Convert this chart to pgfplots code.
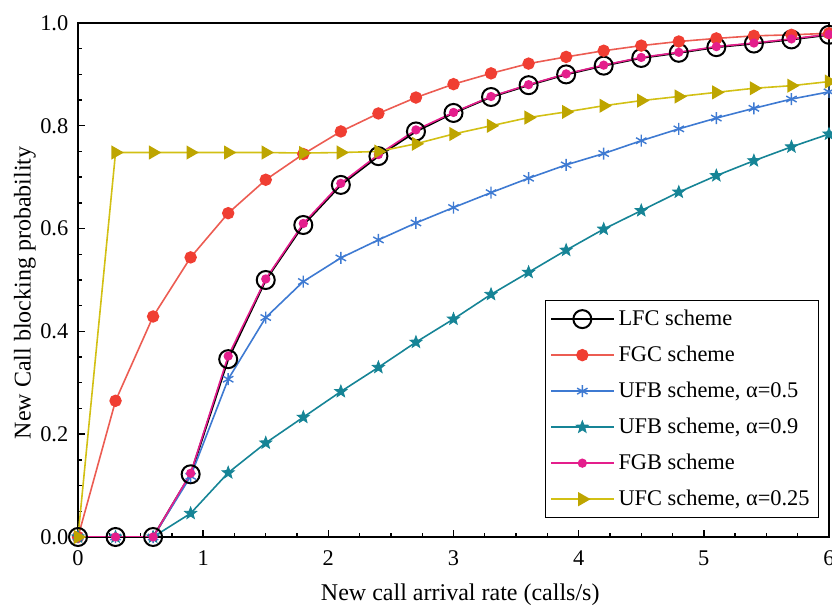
\documentclass[border=0pt]{standalone}
\usepackage{pgfplots}
\pgfplotsset{compat=1.18}
\usepackage{fontspec}
\setmainfont{Liberation Serif}
\definecolor{cred}{RGB}{240,62,50}
\definecolor{credl}{RGB}{236,92,82}
\definecolor{cblue}{RGB}{62,122,210}
\definecolor{cteal}{RGB}{22,132,150}
\definecolor{cmag}{RGB}{228,30,140}
\definecolor{cyel}{RGB}{210,192,20}
\definecolor{cyelm}{RGB}{190,165,0}
\pgfdeclareplotmark{fstar}{%
  \pgfpathmoveto{\pgfpointpolar{90}{\pgfplotmarksize}}%
  \pgfpathlineto{\pgfpointpolar{126}{0.42\pgfplotmarksize}}%
  \pgfpathlineto{\pgfpointpolar{162}{\pgfplotmarksize}}%
  \pgfpathlineto{\pgfpointpolar{198}{0.42\pgfplotmarksize}}%
  \pgfpathlineto{\pgfpointpolar{234}{\pgfplotmarksize}}%
  \pgfpathlineto{\pgfpointpolar{270}{0.42\pgfplotmarksize}}%
  \pgfpathlineto{\pgfpointpolar{306}{\pgfplotmarksize}}%
  \pgfpathlineto{\pgfpointpolar{342}{0.42\pgfplotmarksize}}%
  \pgfpathlineto{\pgfpointpolar{18}{\pgfplotmarksize}}%
  \pgfpathlineto{\pgfpointpolar{54}{0.42\pgfplotmarksize}}%
  \pgfpathclose\pgfusepathqfillstroke}
\pgfplotsset{every axis plot post/.append style={legend image code/.code={\draw[mark repeat=2,mark phase=2,##1] plot coordinates {(0cm,0cm) (0.55cm,0cm) (1.1cm,0cm)};}}}
\begin{document}
\begin{tikzpicture}
\fontsize{11bp}{13bp}\selectfont
\begin{axis}[
  scale only axis, width=375.5bp, height=257bp,
  xmin=0, xmax=6, ymin=0, ymax=1.0,
  xtick={0,1,2,3,4,5,6}, ytick={0,0.2,0.4,0.6,0.8,1.0},
  minor x tick num=3, minor y tick num=3,
  tick pos=left, tick align=inside,
  major tick length=3.5bp, minor tick length=2bp,
  axis line style={line width=0.9bp},
  every tick/.style={black, line width=0.7bp},
  /pgf/number format/assume math mode=true,
  yticklabel style={/pgf/number format/fixed, /pgf/number format/fixed zerofill, /pgf/number format/precision=1, xshift=-1bp},
  ticklabel style={font=\fontsize{11.2bp}{13bp}\selectfont},
  xticklabel style={yshift=-3bp},
  xlabel={New call arrival rate (calls/s)},
  ylabel={New Call blocking probability},
  label style={font=\fontsize{12bp}{14bp}\selectfont},
  xlabel style={at={(axis description cs:0.509,-0.113)}, anchor=center},
  ylabel style={at={(axis description cs:-0.0706,0.475)}, anchor=center},
  legend style={at={(axis description cs:0.9867,0.037)}, anchor=south east,
    draw=black, font=\fontsize{11.2bp}{13bp}\selectfont,
    row sep=4.6bp, inner sep=2.5bp, cells={anchor=west}},
  legend cell align=left,
]
\addplot[black, line width=1bp, mark=o, mark size=4.5bp, mark options={line width=1bp}] coordinates {
(0,0) (0.3,0) (0.6,0) (0.9,0.122) (1.2,0.346) (1.5,0.500) (1.8,0.607) (2.1,0.685) (2.4,0.741) (2.7,0.789) (3.0,0.825) (3.3,0.856) (3.6,0.879) (3.9,0.900) (4.2,0.917) (4.5,0.932) (4.8,0.942) (5.1,0.953) (5.4,0.960) (5.7,0.968) (6.0,0.977)};
\addlegendentry{LFC scheme}
\addplot[credl, line width=0.8bp, mark=*, mark size=2.7bp, mark options={cred, fill=cred}] coordinates {
(0,0) (0.3,0.265) (0.6,0.429) (0.9,0.544) (1.2,0.630) (1.5,0.695) (1.8,0.745) (2.1,0.789) (2.4,0.824) (2.7,0.855) (3.0,0.881) (3.3,0.902) (3.6,0.921) (3.9,0.934) (4.2,0.946) (4.5,0.956) (4.8,0.964) (5.1,0.970) (5.4,0.975) (5.7,0.977) (6.0,0.980)};
\addlegendentry{FGC scheme}
\addplot[cblue, line width=0.8bp, mark=asterisk, mark size=3bp, mark options={line width=0.7bp}] coordinates {
(0,0) (0.3,0) (0.6,0) (0.9,0.118) (1.2,0.307) (1.5,0.427) (1.8,0.497) (2.1,0.543) (2.4,0.578) (2.7,0.611) (3.0,0.641) (3.3,0.670) (3.6,0.698) (3.9,0.724) (4.2,0.746) (4.5,0.771) (4.8,0.794) (5.1,0.815) (5.4,0.834) (5.7,0.852) (6.0,0.866)};
\addlegendentry{UFB scheme, α=0.5}
\addplot[cteal, line width=0.8bp, mark=fstar, mark size=3.2bp, mark options={cteal, fill=cteal, line width=0.4bp}] coordinates {
(0,0) (0.3,0) (0.6,0) (0.9,0.046) (1.2,0.125) (1.5,0.183) (1.8,0.233) (2.1,0.283) (2.4,0.330) (2.7,0.379) (3.0,0.424) (3.3,0.472) (3.6,0.515) (3.9,0.558) (4.2,0.599) (4.5,0.635) (4.8,0.671) (5.1,0.703) (5.4,0.732) (5.7,0.759) (6.0,0.784)};
\addlegendentry{UFB scheme, α=0.9}
\addplot[cmag, line width=0.8bp, mark=*, mark size=1.9bp, mark options={cmag, fill=cmag}] coordinates {
(0,0) (0.3,0) (0.6,0) (0.9,0.124) (1.2,0.352) (1.5,0.502) (1.8,0.610) (2.1,0.688) (2.4,0.744) (2.7,0.792) (3.0,0.826) (3.3,0.857) (3.6,0.880) (3.9,0.901) (4.2,0.918) (4.5,0.933) (4.8,0.943) (5.1,0.954) (5.4,0.961) (5.7,0.969) (6.0,0.978)};
\addlegendentry{FGB scheme}
\addplot[cyel, line width=0.8bp, mark=triangle*, mark size=3.3bp, mark options={cyelm, fill=cyelm, rotate=-90}] coordinates {
(0,0) (0.3,0.748) (0.6,0.748) (0.9,0.748) (1.2,0.748) (1.5,0.748) (1.8,0.747) (2.1,0.748) (2.4,0.750) (2.7,0.765) (3.0,0.784) (3.3,0.800) (3.6,0.816) (3.9,0.827) (4.2,0.839) (4.5,0.849) (4.8,0.857) (5.1,0.865) (5.4,0.873) (5.7,0.878) (6.0,0.886)};
\addlegendentry{UFC scheme, α=0.25}
\end{axis}
\pgfresetboundingbox
\path ([xshift=-39bp,yshift=-36bp]current axis.south west) rectangle ([xshift=1.5bp,yshift=11.5bp]current axis.north east);
\end{tikzpicture}
\end{document}
